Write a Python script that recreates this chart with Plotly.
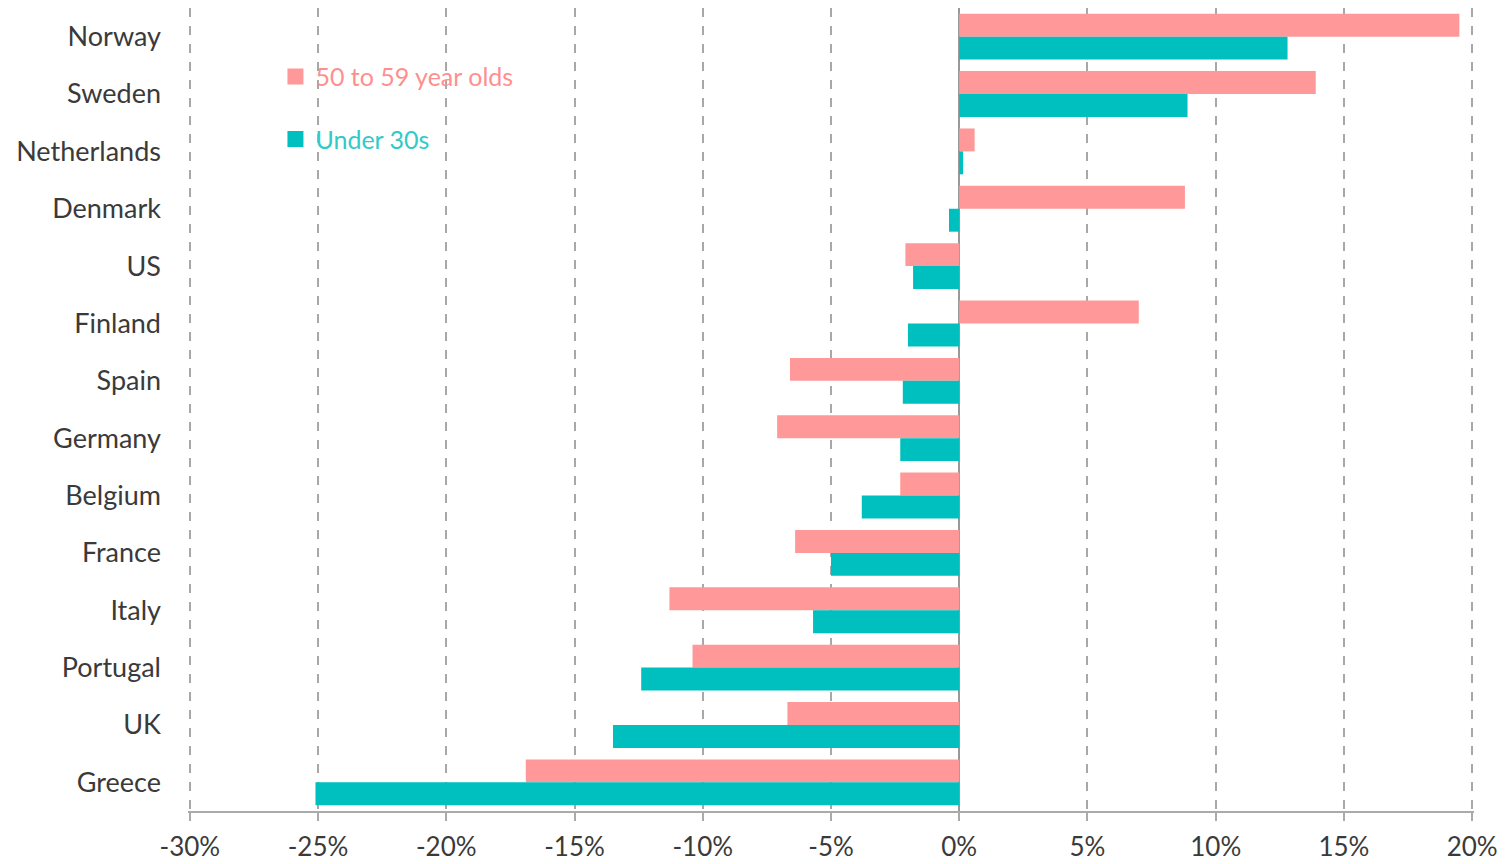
import plotly.graph_objects as go

countries = ["Norway", "Sweden", "Netherlands", "Denmark", "US", "Finland", "Spain",
             "Germany", "Belgium", "France", "Italy", "Portugal", "UK", "Greece"]
age_50_59 = [19.5, 13.9, 0.6, 8.8, -2.1, 7.0, -6.6, -7.1, -2.3, -6.4, -11.3, -10.4, -6.7, -16.9]
under_30 = [12.8, 8.9, 0.15, -0.4, -1.8, -2.0, -2.2, -2.3, -3.8, -5.0, -5.7, -12.4, -13.5, -25.1]
x_ticks = [-30, -25, -20, -15, -10, -5, 0, 5, 10, 15, 20]
x_tick_labels = ["-30%", "-25%", "-20%", "-15%", "-10%", "-5%", "0%", "5%", "10%", "15%", "20%"]
series_names = ["50 to 59 year olds", "Under 30s"]

PINK = "#FF9999"
TEAL = "#00BFBF"
PINK_TEXT = "#FF8F8F"
TEAL_TEXT = "#33C9C9"
FONT = "Lato"

fig = go.Figure()
fig.add_trace(go.Bar(
    y=countries, x=[v / 100 for v in age_50_59], orientation="h",
    name=series_names[0], showlegend=False,
    marker=dict(color=PINK, line=dict(width=0)),
))
fig.add_trace(go.Bar(
    y=countries, x=[v / 100 for v in under_30], orientation="h",
    name=series_names[1], showlegend=False,
    marker=dict(color=TEAL, line=dict(width=0)),
))
# legend entries with larger square swatches
for nm, col, tcol, grp in [(series_names[0], PINK, PINK_TEXT, "a"),
                           (series_names[1], TEAL, TEAL_TEXT, "b")]:
    fig.add_trace(go.Scatter(
        x=[None], y=[None], mode="markers",
        marker=dict(symbol="square", size=16, color=col),
        name=f"<span style='color:{tcol}'>{nm}</span>",
        legendgroup=grp, showlegend=True,
    ))

fig.update_layout(
    width=1506, height=864,
    margin=dict(l=188, r=32, t=8, b=53),
    paper_bgcolor="white", plot_bgcolor="white",
    barmode="group", bargap=0.2, bargroupgap=0,
    font=dict(family=FONT, size=26, color="#3A3A3A"),
    hovermode=False,
    legend=dict(
        x=0.068, y=0.943, xanchor="left", yanchor="top",
        bgcolor="rgba(0,0,0,0)", font=dict(family=FONT, size=25),
        tracegroupgap=27, traceorder="grouped", itemwidth=30,
    ),
    xaxis=dict(
        range=[-0.3007, 0.2007], automargin=False,
        tickvals=[t / 100 for t in x_ticks], ticktext=x_tick_labels,
        showgrid=True, gridcolor="#A8A8A8", griddash="dash", gridwidth=1.5,
        zeroline=True, zerolinecolor="#999999", zerolinewidth=1.5,
        showline=True, linecolor="#AAAAAA", linewidth=1.5,
        ticks="outside", ticklen=8, tickcolor="#AAAAAA", tickwidth=1.5,
        ticklabelstandoff=4,
        tickfont=dict(family=FONT, size=26, color="#3A3A3A"),
        fixedrange=True,
    ),
    yaxis=dict(
        autorange="reversed", type="category", automargin=False,
        showgrid=False, zeroline=False, showline=False,
        ticks="", ticklabelstandoff=26,
        tickfont=dict(family=FONT, size=27, color="#3A3A3A"),
        fixedrange=True,
    ),
)

fig.write_html(
    "out.html",
    config={"displayModeBar": False},
    post_script="document.body.style.margin='0';document.body.style.overflow='hidden';",
)
